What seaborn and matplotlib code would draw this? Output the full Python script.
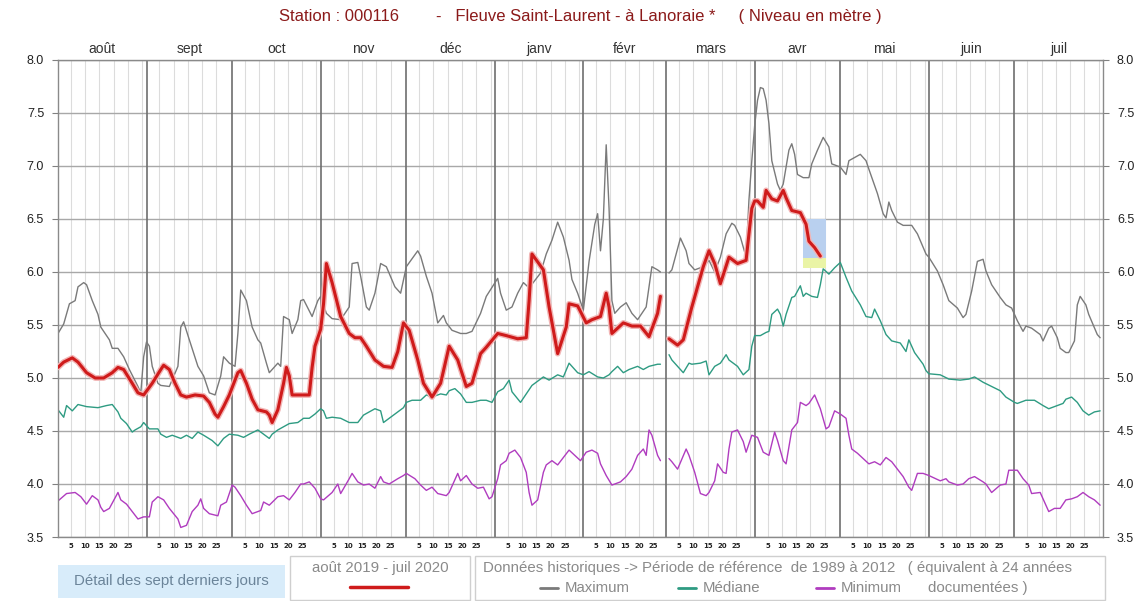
import numpy as np
import pandas as pd
import matplotlib
matplotlib.use("Agg")
import matplotlib.pyplot as plt
import matplotlib.transforms as mtrans
from matplotlib.patches import Rectangle
from matplotlib.lines import Line2D
import seaborn as sns

# ---------------- data ----------------
month_names = ["août", "sept", "oct", "nov", "déc", "janv", "févr", "mars", "avr", "mai", "juin", "juil"]
month_lengths = [31, 30, 31, 30, 31, 31, 29, 31, 30, 31, 30, 31]
day_labels = [5, 10, 15, 20, 25]
y_ticks = [3.5, 4.0, 4.5, 5.0, 5.5, 6.0, 6.5, 7.0, 7.5, 8.0]
LEAP_DAY = 212  # 29 févr (missing in all series)

# day index counted from 1 Aug 2019 (0) ; values in metres
max_days = [0, 2, 4, 6, 7, 9, 10, 12, 14, 15, 18, 19, 21, 23, 25, 28, 29, 30, 31, 32, 33, 35, 36, 39, 42, 43, 44, 46, 49, 51,
            53, 55, 57, 58, 60, 62, 63, 64, 66, 68, 70, 71, 73, 74, 77, 78, 79, 81, 82, 84, 85, 86, 89, 91, 92, 94, 96, 99,
            102, 103, 105, 106, 108, 109, 111, 113, 115, 118, 120, 122, 126, 127, 129, 131, 133, 135, 136, 138, 141, 143,
            145, 148, 150, 154, 155, 157, 159, 161, 163, 165, 169, 171, 173, 175, 177, 179, 180, 182, 184, 186, 188, 189,
            190, 191, 192, 193, 194, 195, 197, 199, 201, 203, 206, 208, 210, 211,
            214, 215, 218, 220, 221, 223, 226, 228, 230, 232, 234, 236, 237, 239, 241, 242, 243, 244, 245, 246, 247, 248,
            249, 250, 252, 253, 254, 255, 256, 257, 258, 259, 261, 263, 264, 266, 268, 270, 271, 274, 276, 277, 279, 281,
            283, 284, 287, 289, 290, 291, 292, 294, 296, 299, 301, 304, 305, 308, 310, 312, 315, 317, 318, 320, 322, 324,
            325, 327, 330, 332, 334, 336, 338, 339, 341, 344, 345, 347, 348, 350, 351, 353, 354, 356, 357, 358, 360, 361,
            364, 365]
max_vals = [5.42, 5.51, 5.70, 5.73, 5.86, 5.90, 5.88, 5.73, 5.60, 5.48, 5.36, 5.28, 5.28, 5.20, 5.08, 4.92, 4.86, 5.20, 5.34,
            5.30, 5.11, 4.95, 4.93, 4.92, 5.11, 5.48, 5.53, 5.36, 5.11, 5.02,
            4.86, 4.84, 5.02, 5.20, 5.14, 5.11, 5.42, 5.83, 5.73, 5.48, 5.36, 5.33, 5.14, 5.05, 5.14, 5.11, 5.58, 5.55, 5.42,
            5.55, 5.73, 5.74, 5.58, 5.73, 5.77, 5.61, 5.56, 5.55,
            5.67, 6.08, 6.09, 5.96, 5.67, 5.64, 5.80, 6.08, 6.05, 5.86, 5.80, 6.05, 6.20, 6.15, 5.96, 5.80, 5.52, 5.59, 5.52,
            5.45, 5.42, 5.42,
            5.44, 5.61, 5.77, 5.94, 5.80, 5.64, 5.67, 5.80, 5.90, 5.85, 5.99, 6.17, 6.30, 6.47, 6.33, 6.11, 5.93, 5.80, 5.64,
            6.10, 6.45, 6.55,
            6.20, 6.50, 7.20, 6.60, 5.73, 5.61, 5.67, 5.71, 5.61, 5.55, 5.67, 6.05, 6.02, 6.00,
            5.99, 6.02, 6.32, 6.20, 6.08, 6.02, 6.05, 6.11, 6.00, 6.14, 6.36, 6.46, 6.44, 6.33, 6.14, 6.68, 7.05, 7.38, 7.62,
            7.74, 7.73, 7.62,
            7.40, 7.05, 6.83, 6.77, 6.83, 6.99, 7.15, 7.21, 7.11, 6.92, 6.89, 6.89, 7.02, 7.15, 7.27, 7.18, 7.02, 6.99, 6.92,
            7.05, 7.08, 7.11,
            7.05, 6.97, 6.74, 6.55, 6.51, 6.66, 6.58, 6.47, 6.44, 6.44, 6.36, 6.17, 6.14, 6.01, 5.88, 5.73, 5.66, 5.57, 5.60,
            5.82, 6.10, 6.12,
            6.01, 5.88, 5.76, 5.69, 5.66, 5.54, 5.44, 5.49, 5.47, 5.41, 5.35, 5.47, 5.49, 5.38, 5.28, 5.24, 5.24, 5.35, 5.69,
            5.77, 5.69, 5.60,
            5.41, 5.38]

med_days = [0, 2, 3, 5, 7, 10, 14, 17, 19, 21, 22, 24, 26, 27, 29, 30, 32, 35, 36, 38, 40, 43, 45, 47, 49, 51, 54, 56, 58, 60,
            63, 65, 67, 70, 72, 74, 75, 77, 79, 81, 84, 86, 88, 90, 92, 93, 94, 96, 99, 102, 105, 107, 109, 111, 113, 114,
            116, 119, 121, 122, 124, 127, 129, 131, 134, 136, 137, 139, 141, 143, 145, 148, 150, 152, 154, 156, 158, 159,
            162, 164, 166, 168, 170, 172, 175, 177, 179, 182, 184, 186, 189, 191, 193, 194, 196, 198, 200, 203, 205, 207,
            210, 211,
            214, 215, 217, 219, 221, 222, 225, 227, 228, 230, 232, 234, 235, 238, 240, 242, 243, 244, 246, 248, 249, 250,
            252, 253, 254, 255, 257, 258, 260, 261, 262, 264, 266, 267, 268, 270, 272, 274, 276, 278, 281, 283, 285, 286,
            288, 290, 292, 295, 297, 298, 300, 303, 304, 305, 309, 312, 316, 319, 321, 324, 327, 330, 332, 335, 336, 339,
            342, 345, 347, 350, 352, 353, 355, 357, 359, 361, 363, 365]
med_vals = [4.70, 4.63, 4.74, 4.69, 4.75, 4.73, 4.72, 4.74, 4.75, 4.68, 4.62, 4.57, 4.49, 4.51, 4.54, 4.58, 4.52, 4.52, 4.47,
            4.44, 4.46, 4.43, 4.46, 4.43, 4.49, 4.46, 4.41, 4.36, 4.43, 4.47,
            4.46, 4.44, 4.47, 4.51, 4.47, 4.43, 4.47, 4.51, 4.54, 4.57, 4.58, 4.62, 4.62, 4.66, 4.71, 4.69, 4.62, 4.63, 4.62,
            4.58, 4.58, 4.65, 4.68, 4.71, 4.69, 4.58,
            4.62, 4.68, 4.72, 4.77, 4.79, 4.79, 4.84, 4.82, 4.85, 4.84, 4.88, 4.90, 4.85, 4.77, 4.77, 4.79, 4.79, 4.77, 4.87,
            4.90, 4.98, 4.87,
            4.77, 4.85, 4.93, 4.97, 5.01, 4.98, 5.03, 5.01, 5.14, 5.05, 5.03, 5.06, 5.01, 5.00, 5.03, 5.06, 5.11, 5.05, 5.08,
            5.11, 5.08, 5.11,
            5.13, 5.13,
            5.22, 5.17, 5.11, 5.05, 5.14, 5.13, 5.14, 5.16, 5.03, 5.11, 5.14, 5.22, 5.17, 5.11, 5.03, 5.08, 5.30, 5.40, 5.40,
            5.43, 5.44, 5.60,
            5.65, 5.60, 5.49, 5.60, 5.76, 5.77, 5.87, 5.77, 5.80, 5.77, 5.76, 5.88, 6.03, 5.98, 6.04, 6.09, 5.95, 5.82, 5.69,
            5.58, 5.57, 5.65,
            5.54, 5.41, 5.35, 5.33, 5.25, 5.36, 5.24, 5.13, 5.07, 5.04, 5.03, 4.99, 4.98, 4.99, 5.01, 4.96, 4.92, 4.88, 4.82,
            4.77, 4.76, 4.79,
            4.79, 4.74, 4.71, 4.74, 4.76, 4.80, 4.82, 4.77, 4.69, 4.65, 4.68, 4.69]

min_days = [0, 3, 6, 8, 10, 12, 14, 15, 16, 18, 21, 22, 24, 26, 28, 30, 32, 33, 35, 37, 39, 42, 43, 45, 47, 49, 50, 51, 53, 56,
            57, 59, 61, 62, 64, 66, 68, 71, 72, 74, 77, 79, 81, 83, 85, 86, 88, 90, 92, 93, 96, 98, 99, 102, 103, 105, 107,
            109, 111, 113, 114, 116, 119, 121, 122, 125, 127, 129, 131, 133, 136, 137, 140, 141, 143, 145, 147, 149, 151,
            152, 154, 155, 157, 158, 160, 162, 164, 165, 166, 168, 170, 171, 173, 175, 177, 179, 181, 183, 185, 187, 189,
            190, 192, 194, 197, 199, 201, 203, 205, 206, 207, 208, 210, 211,
            214, 215, 217, 220, 221, 223, 225, 227, 228, 230, 231, 233, 234, 235, 236, 238, 240, 241, 243, 245, 247, 249,
            251, 252, 254, 255, 257, 259, 260, 262, 263, 265, 267, 269, 270, 272, 274, 276, 277, 278, 280, 282, 284, 286,
            288, 290, 292, 294, 296, 298, 299, 301, 303, 305, 309, 311, 312, 315, 317, 319, 321, 324, 325, 327, 330, 332,
            333, 336, 338, 340, 341, 344, 346, 347, 349, 351, 353, 355, 357, 359, 361, 363, 365]
min_vals = [3.84, 3.91, 3.92, 3.88, 3.81, 3.89, 3.85, 3.78, 3.74, 3.77, 3.92, 3.85, 3.81, 3.74, 3.67, 3.69, 3.69, 3.83, 3.88,
            3.85, 3.77, 3.67, 3.59, 3.61, 3.74, 3.80, 3.86, 3.77, 3.72, 3.70,
            3.80, 3.83, 3.99, 3.97, 3.89, 3.80, 3.72, 3.75, 3.83, 3.80, 3.88, 3.89, 3.85, 3.92, 4.00, 4.00, 4.02, 3.96, 3.86,
            3.85, 3.92, 4.00, 3.91, 4.05, 4.10, 4.02, 3.99,
            4.00, 3.96, 4.07, 4.02, 4.00, 4.05, 4.08, 4.10, 4.05, 3.99, 3.94, 3.97, 3.91, 3.89, 3.92, 4.10, 4.03, 4.08, 4.00,
            3.96, 3.97, 3.86,
            3.88, 4.05, 4.18, 4.22, 4.29, 4.32, 4.25, 4.11, 3.92, 3.80, 3.85, 4.11, 4.18, 4.22, 4.18, 4.25, 4.32, 4.27, 4.22,
            4.30, 4.32, 4.29,
            4.19, 4.08, 3.99, 4.02, 4.07, 4.14, 4.27, 4.33, 4.27, 4.51, 4.46, 4.27, 4.22,
            4.24, 4.21, 4.14, 4.33, 4.27, 4.11, 3.91, 3.89, 3.92, 4.03, 4.19, 4.11, 4.10, 4.33, 4.49, 4.51, 4.40, 4.30, 4.46,
            4.44, 4.30, 4.27,
            4.49, 4.41, 4.22, 4.19, 4.51, 4.58, 4.77, 4.74, 4.76, 4.84, 4.71, 4.52, 4.54, 4.69, 4.66, 4.62, 4.46, 4.33, 4.29,
            4.24, 4.19, 4.21,
            4.18, 4.25, 4.21, 4.14, 4.07, 3.97, 3.94, 4.10, 4.10, 4.08, 4.03, 4.05, 4.02, 3.99, 4.00, 4.05, 4.07, 4.02, 4.00,
            3.92, 3.99, 4.00,
            4.13, 4.13, 4.05, 3.99, 3.91, 3.92, 3.80, 3.74, 3.77, 3.77, 3.85, 3.86, 3.88, 3.92, 3.88, 3.85, 3.80]

cur_days = [0, 2, 5, 7, 10, 13, 16, 19, 21, 23, 26, 28, 30, 33, 36, 37, 39, 41, 43, 45, 48, 51, 53, 55, 56, 58, 60, 62, 63, 64,
            66, 68, 70, 73, 74, 75, 77, 79, 80, 81, 82, 85, 88, 89, 90, 92, 93, 94, 96, 99, 102, 104, 106, 108, 111, 114,
            117, 119, 121, 123, 126, 128, 131, 134, 137, 140, 143, 145, 148, 150, 154, 157, 161, 164, 165, 166, 170, 172,
            175, 178, 179, 182, 185, 187, 190, 192, 193, 194, 198, 201, 204, 207, 210, 211,
            214, 217, 219, 222, 226, 228, 230, 232, 235, 238, 241, 242, 243, 244, 245, 247, 248, 250, 252, 254, 255, 257,
            260, 262, 263, 265, 267]
cur_vals = [5.10, 5.15, 5.19, 5.15, 5.05, 5.00, 5.00, 5.05, 5.10, 5.08, 4.95, 4.86, 4.84, 4.95, 5.08, 5.12, 5.08, 4.95, 4.84,
            4.82, 4.84, 4.83, 4.77, 4.66, 4.63, 4.73, 4.84, 4.98, 5.05, 5.07,
            4.95, 4.80, 4.70, 4.68, 4.65, 4.58, 4.70, 4.95, 5.10, 5.02, 4.84, 4.84, 4.84, 5.10, 5.30, 5.46, 5.70, 6.08, 5.90,
            5.58, 5.42, 5.38, 5.38, 5.30, 5.17, 5.11,
            5.10, 5.25, 5.52, 5.45, 5.17, 4.95, 4.82, 4.95, 5.30, 5.17, 4.92, 4.95, 5.23, 5.29, 5.42, 5.40, 5.37, 5.38, 5.73,
            6.17, 6.02, 5.67,
            5.23, 5.48, 5.70, 5.68, 5.52, 5.55, 5.58, 5.80, 5.67, 5.42, 5.52, 5.49, 5.49, 5.39, 5.61, 5.77,
            5.37, 5.31, 5.36, 5.67, 6.05, 6.20, 6.08, 5.89, 6.14, 6.08, 6.11, 6.36, 6.60, 6.67, 6.67, 6.61, 6.77, 6.69, 6.67,
            6.77, 6.70, 6.58,
            6.56, 6.45, 6.29, 6.23, 6.15]

# last seven days detail window (days / metres)
detail_days = (261, 269)
detail_levels = (6.04, 6.13, 6.50)

title = "Station : 000116        -   Fleuve Saint-Laurent - à Lanoraie *     ( Niveau en mètre )"

# ---------------- figure ----------------
sns.set_theme(style="white")
plt.rcParams["font.family"] = ["Liberation Sans", "DejaVu Sans"]

W, H = 1140, 601
fig = plt.figure(figsize=(W / 100, H / 100), dpi=100)
L, R, T, B = 58, 1103, 60, 537
ax = fig.add_axes([L / W, 1 - B / H, (R - L) / W, (B - T) / H])
ax.set_facecolor("white")

month_starts = np.concatenate([[0], np.cumsum(month_lengths)])
ax.set_xlim(0, month_starts[-1])
ax.set_ylim(y_ticks[0], y_ticks[-1])

# grid
for m0, ml in zip(month_starts[:-1], month_lengths):
    for d in (5, 10, 15, 20, 25, 30):
        if d < ml:
            ax.axvline(m0 + d - 0.5, color="#dcdcdc", lw=0.8, zorder=0)
for yv in y_ticks:
    ax.axhline(yv, color="#a8a8a8", lw=1.0, zorder=0.5)
for m0 in month_starts[1:-1]:
    ax.axvline(m0, color="#6e6e6e", lw=1.2, zorder=0.6)

# detail window
ax.add_patch(Rectangle((detail_days[0], detail_levels[1]), detail_days[1] - detail_days[0],
                       detail_levels[2] - detail_levels[1], facecolor="#b9d0ef", edgecolor="none", zorder=1))
ax.add_patch(Rectangle((detail_days[0], detail_levels[0]), detail_days[1] - detail_days[0],
                       detail_levels[1] - detail_levels[0], facecolor="#eaf4a6", edgecolor="none", zorder=1))


def draw(days, vals, color, lw, z):
    df = pd.DataFrame({"day": days, "val": vals})
    df["seg"] = (df["day"] > LEAP_DAY).astype(int)
    sns.lineplot(data=df, x="day", y="val", units="seg", estimator=None, color=color,
                 lw=lw, ax=ax, legend=False, zorder=z)


draw(max_days, max_vals, "#7a7a7a", 1.0, 2)
draw(med_days, med_vals, "#2e9b82", 1.0, 2)
draw(min_days, min_vals, "#b03cbf", 1.0, 2)
draw(cur_days, cur_vals, "#f2b5b5", 4.2, 3)
draw(cur_days, cur_vals, "#cf1b1b", 2.2, 4)

ax.set_xlabel("")
ax.set_ylabel("")
ax.set_xticks([])
ax.set_yticks(y_ticks)
ax.set_yticklabels([f"{v:.1f}" for v in y_ticks])
ax.tick_params(axis="y", left=True, right=True, labelleft=True, labelright=True, direction="out",
               length=4, width=0.8, color="#808080", labelsize=9, pad=6, labelcolor="#222222")
for s in ax.spines.values():
    s.set_color("#8a8a8a")
    s.set_linewidth(1.0)

trans = mtrans.blended_transform_factory(ax.transData, ax.transAxes)
for name, m0, ml in zip(month_names, month_starts[:-1], month_lengths):
    ax.text(m0 + ml / 2, 1.024, name, transform=trans, ha="center", va="center", fontsize=10, color="#333333")
    for d in day_labels:
        ax.text(m0 + d - 0.5, -0.019, str(d), transform=trans, ha="center", va="center", fontsize=5,
                fontweight="bold", color="#222222", family="DejaVu Sans")

fig.text(0.509, 1 - 17 / H, title, ha="center", va="center", fontsize=12, color="#8b1a1a")

# ---------------- bottom legend boxes ----------------
def box(x0, y0, x1, y1, fc, ec):
    fig.add_artist(Rectangle((x0 / W, 1 - y1 / H), (x1 - x0) / W, (y1 - y0) / H, transform=fig.transFigure,
                             facecolor=fc, edgecolor=ec, lw=1.0))


LF = 10.8
box(58, 565, 285, 598, "#d8ecfa", "none")
fig.text(171 / W, 1 - 581 / H, "Détail des sept derniers jours", ha="center", va="center", fontsize=LF, color="#6b8499")
box(290, 556, 470, 600, "white", "#cfcfcf")
fig.text(380 / W, 1 - 568 / H, "août 2019 - juil 2020", ha="center", va="center", fontsize=LF, color="#8a8a8a")
fig.add_artist(Line2D([350 / W, 408 / W], [1 - 587 / H] * 2, transform=fig.transFigure, color="#cf1b1b", lw=2.5))
box(475, 556, 1105, 600, "white", "#cfcfcf")
fig.text(483 / W, 1 - 568 / H, "Données historiques -> Période de référence  de 1989 à 2012   ( équivalent à 24 années",
         ha="left", va="center", fontsize=LF, color="#8a8a8a")
for (lx, col, lab) in [(540, "#7a7a7a", "Maximum"), (678, "#2e9b82", "Médiane"), (816, "#b03cbf", "Minimum")]:
    fig.add_artist(Line2D([lx / W, (lx + 18) / W], [1 - 588 / H] * 2, transform=fig.transFigure, color=col, lw=2))
    fig.text((lx + 25) / W, 1 - 588 / H, lab, ha="left", va="center", fontsize=LF, color="#8a8a8a")
fig.text(978 / W, 1 - 588 / H, "documentées )", ha="center", va="center", fontsize=LF, color="#8a8a8a")

fig.savefig("out.png", dpi=100, facecolor="white")
